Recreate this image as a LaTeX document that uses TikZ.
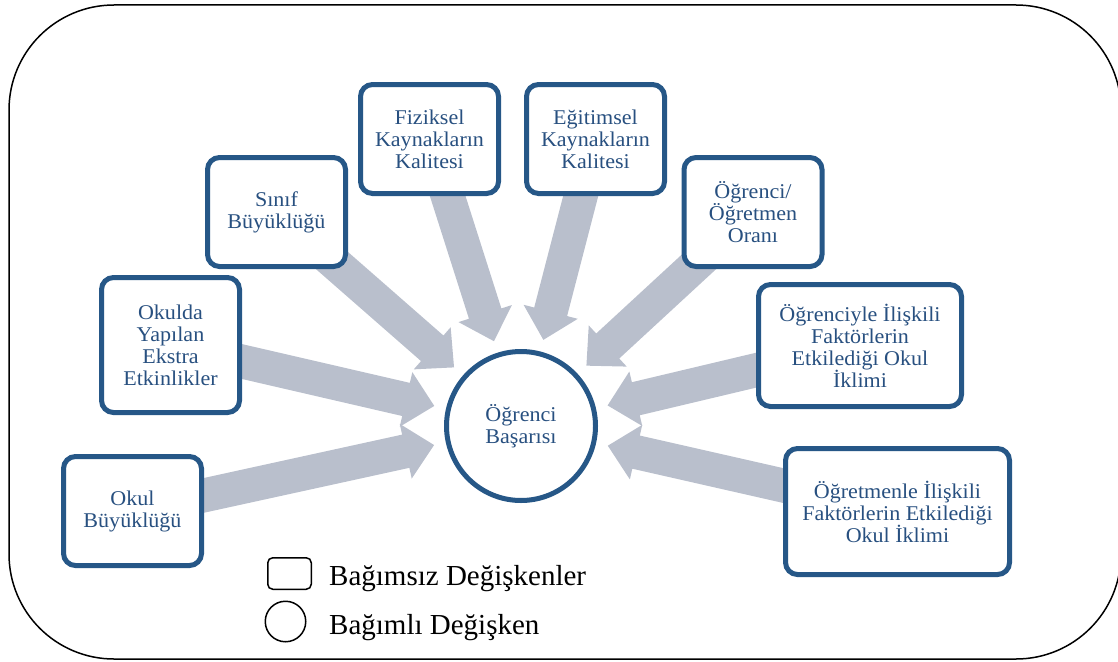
\documentclass[tikz,border=0pt]{standalone}
\usepackage{fontspec}
\setmainfont{Liberation Serif}
\newfontfamily\boxfont[FakeStretch=1.05]{Liberation Serif}
\usetikzlibrary{calc,backgrounds}
\definecolor{boxblue}{RGB}{38,87,135}
\definecolor{txtblue}{RGB}{40,80,128}
\definecolor{arrowgray}{RGB}{185,191,204}
\tikzset{
  varbox/.style={draw=boxblue, line width=5pt, rounded corners=12pt, fill=white,
    align=center, text=txtblue, font=\boxfont\fontsize{21}{22}\selectfont, inner sep=0pt},
  depcirc/.style={circle, draw=boxblue, line width=5pt, fill=white, align=center,
    text=txtblue, font=\boxfont\fontsize{21}{22}\selectfont, minimum size=149pt, inner sep=0pt},
  legsq/.style={draw=black, line width=1.5pt, rounded corners=5pt,
    minimum width=43.5pt, minimum height=31.5pt, inner sep=0pt},
  legcirc/.style={circle, draw=black, line width=1.5pt, minimum size=40.5pt, inner sep=0pt},
  legtext/.style={anchor=base west, inner sep=0pt, font=\fontsize{29}{34}\selectfont},
  outerframe/.style={draw=black, line width=1.5pt, rounded corners=105pt},
}
\newcommand\convarrow[2]{%
  \coordinate (T) at ($(#2.center)!89pt!(#1.center)$);
  \coordinate (B) at ($(T)!29pt!(#1.center)$);
  \fill[arrowgray] ($(#1.center)!17pt!90:(T)$) -- ($(B)!17pt!90:(T)$)
    -- ($(B)!28pt!90:(T)$) -- (T) -- ($(B)!28pt!-90:(T)$)
    -- ($(B)!17pt!-90:(T)$) -- ($(#1.center)!17pt!-90:(T)$) -- cycle;
}
\begin{document}
\begin{tikzpicture}[x=1pt, y=-1pt]
\useasboundingbox (0,0) rectangle (1118,661);
\draw[outerframe] (9,5) rectangle (1121,659);

\node[depcirc] (ob) at (521,426) {Öğrenci\\Başarısı};

\node[varbox, minimum width=138pt, minimum height=109pt] (sinif) at (276.5,212) {Sınıf\\Büyüklüğü};
\node[varbox, minimum width=138pt, minimum height=109pt] (fiz) at (429.5,139) {Fiziksel\\Kaynakların\\Kalitesi};
\node[varbox, minimum width=138pt, minimum height=109pt] (egi) at (595.5,139) {Eğitimsel\\Kaynakların\\Kalitesi};
\node[varbox, minimum width=138pt, minimum height=109pt] (oran) at (753,212) {Öğrenci/\\Öğretmen\\Oranı};
\node[varbox, minimum width=138pt, minimum height=135pt] (ekstra) at (170.5,345) {Okulda\\Yapılan\\Ekstra\\Etkinlikler};
\node[varbox, minimum width=138pt, minimum height=109pt] (okul) at (132.5,511) {Okul\\Büyüklüğü};
\node[varbox, minimum width=203pt, minimum height=122pt] (ogrf) at (860,345.5) {Öğrenciyle İlişkili\\Faktörlerin\\Etkilediği Okul\\İklimi};
\node[varbox, minimum width=224pt, minimum height=126pt] (ogrtf) at (897.5,511.5) {Öğretmenle İlişkili\\Faktörlerin Etkilediği\\Okul İklimi};

\begin{pgfonlayer}{background}
  \convarrow{sinif}{ob}
  \convarrow{fiz}{ob}
  \convarrow{egi}{ob}
  \convarrow{oran}{ob}
  \convarrow{ekstra}{ob}
  \convarrow{okul}{ob}
  \convarrow{ogrf}{ob}
  \convarrow{ogrtf}{ob}
\end{pgfonlayer}

\node[legsq] (lsq) at (289.5,573.5) {};
\node[legcirc] (lci) at (285.5,621.5) {};
\node[legtext] (lt1) at (329,585) {Bağımsız Değişkenler};
\node[legtext] (lt2) at (329,634) {Bağımlı Değişken};
\end{tikzpicture}
\end{document}
